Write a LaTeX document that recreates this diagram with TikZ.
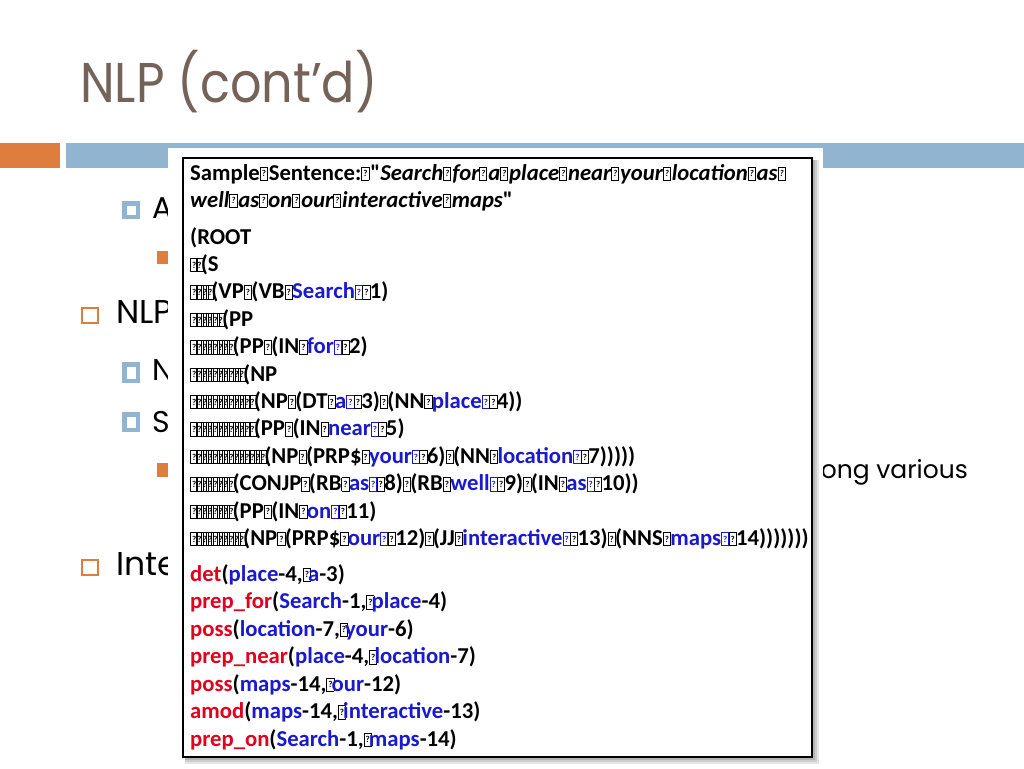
\documentclass[tikz,border=0pt]{standalone}
\usepackage{fontspec}
\setmainfont{Carlito}
\newfontfamily\gothic{Poppins}
\newfontfamily\gothicttl[FakeStretch=0.88]{Poppins}
\definecolor{tblue}{RGB}{25,25,205}
\definecolor{tred}{RGB}{225,0,30}
\definecolor{ttl}{RGB}{117,99,90}
\definecolor{barorange}{RGB}{223,125,62}
\definecolor{barblue}{RGB}{145,180,208}
\newcommand\qglyph{\rlap{\raisebox{0pt}{\fboxsep0pt\fboxrule0.9pt\fbox{\vbox to 12.5pt{\vss\hbox to 6.3pt{\hss\fontsize{9}{9}\selectfont ?\hss}\vss}}}}}
\newcommand\qb{\qglyph\hspace{7.5pt}}
\newcommand\qi{\qglyph\hspace{5.3pt}}
\newcommand\qs{\qglyph\hspace{9pt}}
\newcommand\blu[1]{\textcolor{tblue}{#1}}
\newcommand\rd[1]{\textcolor{tred}{#1}}
\newcommand\ind[1]{\foreach \i in {1,...,#1}{\qi}}
\begin{document}
\begin{tikzpicture}[x=1pt,y=-1pt,
  txt/.style={inner sep=0pt, anchor=base west, font=\fontsize{22.7}{27}\bfseries\selectfont},
  lvlone/.style={inner sep=0pt, anchor=base west, font=\gothic\fontsize{33}{33}\selectfont},
  lvltwo/.style={inner sep=0pt, anchor=base west, font=\gothic\fontsize{30}{30}\selectfont},
  lvlthree/.style={inner sep=0pt, font=\gothic\fontsize{25}{25}\selectfont},
  hollowsq/.style={draw=barorange, line width=1.5pt},
  bluesq/.style={draw=barblue, line width=4.5pt},
  fillsq/.style={fill=barorange}]
\useasboundingbox (0,0) rectangle (1024,768);
\fill[white] (0,0) rectangle (1024,768);
% title
\node[inner sep=0pt, anchor=base west, font=\gothicttl\fontsize{56}{56}\selectfont, text=ttl] (title) at (80,102) {NLP (cont’d)};
% bars
\fill[barorange] (0,143) rectangle (60,168);
\fill[barblue] (66,143) rectangle (1024,168);
% bullets behind the box
\path[bluesq] (124.25,203.25) rectangle (137.75,216.75);
\node[lvltwo] (ba) at (152,218) {A};
\path[fillsq] (157,251) rectangle (170,264);
\path[hollowsq] (82,308) rectangle (98,323);
\node[lvlone] (bnlp) at (116,323) {NLP};
\path[bluesq] (124.25,364.25) rectangle (137.75,380.75);
\node[lvltwo] (bn) at (152,380) {N};
\path[bluesq] (124.25,414.25) rectangle (137.75,429.75);
\node[lvltwo] (bs) at (152,432) {S};
\path[fillsq] (157,463) rectangle (170,477);
\node[lvlthree, anchor=base east] (bvar) at (968,478) {ong various};
\path[hollowsq] (82,560) rectangle (98,575);
\node[lvlone] (binte) at (116,575) {Inte};
% covering box
\fill[white] (168,148) rectangle (823,768);
\fill[black, opacity=0.10] (185,160) rectangle (819,764);
\fill[black, opacity=0.10] (185,160) rectangle (817,762);
\fill[black, opacity=0.12] (185,160) rectangle (815,760);
\draw[fill=white, line width=2pt] (183,158) rectangle (812,757);
% text
\node[txt] (s1) at (190,180) {Sample\qs Sentence:\qs\textquotedbl\textit{Search\qs for\qs a\qs place\qs near\qs your\qs location\qs as\qs}};
\node[txt] (s2) at (190,207) {\textit{well\qs as\qs on\qs our\qs interactive\qs maps}\textquotedbl};
\node[txt] (t1) at (190,244) {(ROOT};
\node[txt] (t2) at (190,271.4) {\ind{2}(S};
\node[txt] (t3) at (190,298.8) {\ind{4}(VP\qb(VB\qb\blu{Search\qb}\qb 1)};
\node[txt] (t4) at (190,326.2) {\ind{6}(PP};
\node[txt] (t5) at (190,353.6) {\ind{8}(PP\qb(IN\qb\blu{for\qb}\qb 2)};
\node[txt] (t6) at (190,381) {\ind{10}(NP};
\node[txt] (t7) at (190,408.4) {\ind{12}(NP\qb(DT\qb\blu{a\qb}\qb 3)\qb(NN\qb\blu{place\qb}\qb 4))};
\node[txt] (t8) at (190,435.8) {\ind{12}(PP\qb(IN\qb\blu{near\qb}\qb 5)};
\node[txt] (t9) at (190,463.2) {\ind{14}(NP\qb(PRP\$\qb\blu{your\qb}\qb 6)\qb(NN\qb\blu{location\qb}\qb 7)))))};
\node[txt] (t10) at (190,490.6) {\ind{8}(CONJP\qb(RB\qb\blu{as\qb}\qb 8)\qb(RB\qb\blu{well\qb}\qb 9)\qb(IN\qb\blu{as\qb}\qb 10))};
\node[txt] (t11) at (190,518) {\ind{8}(PP\qb(IN\qb\blu{on\qb}\qb 11)};
\node[txt] (t12) at (190,545.4) {\ind{10}(NP\qb(PRP\$\qb\blu{our\qb}\qb 12)\qb(JJ\qb\blu{interactive\qb}\qb 13)\qb(NNS\qb\blu{maps\qb}\qb 14)))))))};
\node[txt] (d1) at (190,581) {\rd{det}(\blu{place}-4,\qi\blu{a}-3)};
\node[txt] (d2) at (190,608.5) {\rd{prep\_for}(\blu{Search}-1,\qi\blu{place}-4)};
\node[txt] (d3) at (190,636) {\rd{poss}(\blu{location}-7,\qi\blu{your}-6)};
\node[txt] (d4) at (190,663.5) {\rd{prep\_near}(\blu{place}-4,\qi\blu{location}-7)};
\node[txt] (d5) at (190,691) {\rd{poss}(\blu{maps}-14,\qi\blu{our}-12)};
\node[txt] (d6) at (190,718.5) {\rd{amod}(\blu{maps}-14,\qi\blu{interactive}-13)};
\node[txt] (d7) at (190,746) {\rd{prep\_on}(\blu{Search}-1,\qi\blu{maps}-14)};
\end{tikzpicture}
\end{document}
